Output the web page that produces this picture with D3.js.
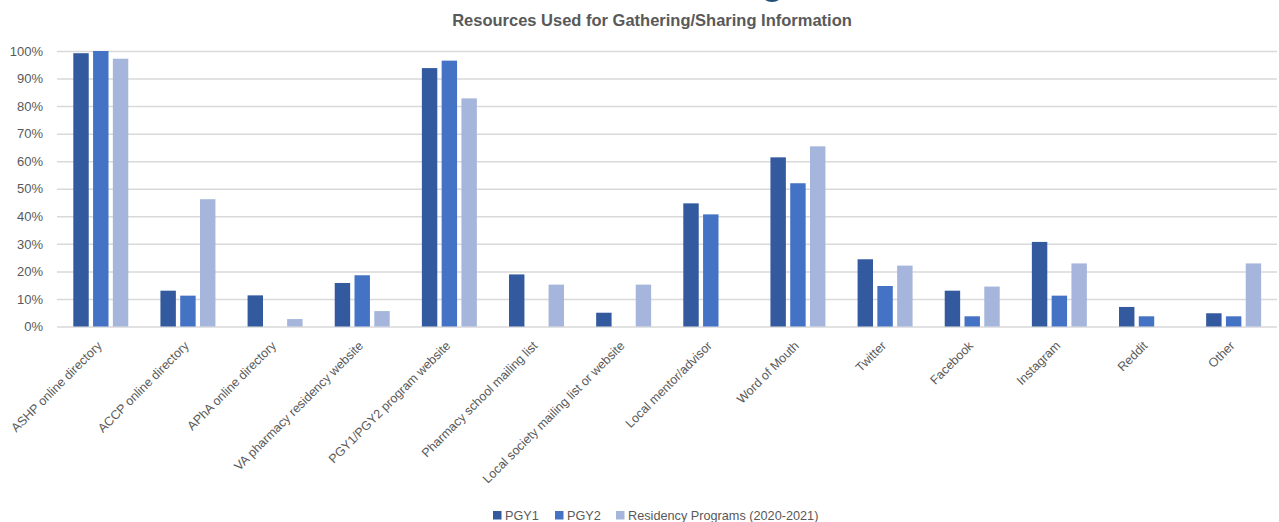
<!DOCTYPE html>
<html>
<head>
<meta charset="utf-8">
<script src="https://cdn.jsdelivr.net/npm/d3@7"></script>
<style>
body { margin:0; background:#fff; }
svg text { font-family: "Liberation Sans", Arial, sans-serif; fill:#595959; }
.grid line { stroke:#d9d9d9; stroke-width:1.5; }
.grid text { font-size:13px; }
.title { font-size:16.5px; font-weight:bold; }
.xlab { font-size:12.5px; }
.legend text { font-size:12.7px; }
</style>
</head>
<body>
<svg id="chart"></svg>
<script>
var categories = ["ASHP online directory","ACCP online directory","APhA online directory","VA pharmacy residency website","PGY1/PGY2 program website","Pharmacy school mailing list","Local society mailing list or website","Local mentor/advisor","Word of Mouth","Twitter","Facebook","Instagram","Reddit","Other"]
var seriesNames = ["PGY1","PGY2","Residency Programs (2020-2021)"]
var pgy1 = [99.2,13.0,11.3,15.8,93.8,18.9,5.0,44.7,61.4,24.4,13.0,30.7,7.1,4.8]
var pgy2 = [100,11.2,0,18.6,96.5,0,0,40.7,52.0,14.7,3.7,11.2,3.7,3.7]
var programs = [97.2,46.2,2.7,5.6,82.8,15.2,15.2,0,65.4,22.1,14.5,22.9,0,22.9]
var yTicks = [0,10,20,30,40,50,60,70,80,90,100]
var colors = ["#335a9e","#4472c4","#a6b5db"]

var screen = {width:1279,height:522}
var plot = {left:57,right:1277,top:51,bottom:326.5}

var svg = d3.select("#chart")
    .attr("width",screen.width)
    .attr("height",screen.height)

var xScale = d3.scaleBand()
    .domain(categories)
    .range([plot.left,plot.right])

var subScale = d3.scaleBand()
    .domain(seriesNames)
    .range([xScale.bandwidth()*0.187,xScale.bandwidth()*0.818])
    .paddingInner(0.22)

var yScale = d3.scaleLinear()
    .domain([0,100])
    .range([plot.bottom,plot.top])

var colorScale = d3.scaleOrdinal()
    .domain(seriesNames)
    .range(colors)

// bit of the logo cut off at the top edge
svg.append("ellipse")
    .attr("cx",772)
    .attr("cy",-9)
    .attr("rx",12)
    .attr("ry",11)
    .attr("fill","#1f4e79")

// gridlines + y labels
var yAxis = d3.axisLeft(yScale)
    .tickValues(yTicks)
    .tickFormat(function(d){ return d+"%"; })
    .tickSize(-(plot.right-plot.left))
    .tickPadding(14)

svg.append("g")
    .attr("class","grid")
    .attr("transform","translate("+plot.left+",0)")
    .call(yAxis)
    .call(function(g){ g.select(".domain").remove(); })

// bars
var rows = categories.map(function(c,i)
{
    return {cat:c,vals:[pgy1[i],pgy2[i],programs[i]]}
})

var groups = svg.append("g")
    .selectAll("g")
    .data(rows)
    .enter()
    .append("g")
    .attr("transform",function(d){ return "translate("+xScale(d.cat)+",0)"; })

groups.selectAll("rect")
    .data(function(d)
    {
        return seriesNames.map(function(s,j){ return {name:s,value:d.vals[j]}; })
    })
    .enter()
    .filter(function(d){ return d.value>0; })
    .append("rect")
    .attr("x",function(d){ return subScale(d.name); })
    .attr("y",function(d){ return yScale(d.value); })
    .attr("width",subScale.bandwidth())
    .attr("height",function(d){ return yScale(0)-yScale(d.value); })
    .attr("fill",function(d){ return colorScale(d.name); })

// x labels, rotated
svg.append("g")
    .selectAll("text")
    .data(categories)
    .enter()
    .append("text")
    .classed("xlab",true)
    .attr("text-anchor","end")
    .attr("transform",function(d)
    {
        return "translate("+(xScale(d)+xScale.bandwidth()/2+2)+","+(plot.bottom+20)+") rotate(-45)"
    })
    .text(function(d){ return d; })

// title
svg.append("text")
    .classed("title",true)
    .attr("text-anchor","middle")
    .attr("x",652)
    .attr("y",26)
    .text("Resources Used for Gathering/Sharing Information")

// legend
var legendX = [493,555,616]
var legend = svg.append("g")
    .classed("legend",true)

var entries = legend.selectAll("g")
    .data(seriesNames)
    .enter()
    .append("g")
    .attr("transform",function(d,i){ return "translate("+legendX[i]+",511)"; })

entries.append("rect")
    .attr("width",8.5)
    .attr("height",8.5)
    .attr("fill",function(d){ return colorScale(d); })

entries.append("text")
    .attr("x",12)
    .attr("y",9)
    .text(function(d){ return d; })
</script>
</body>
</html>
